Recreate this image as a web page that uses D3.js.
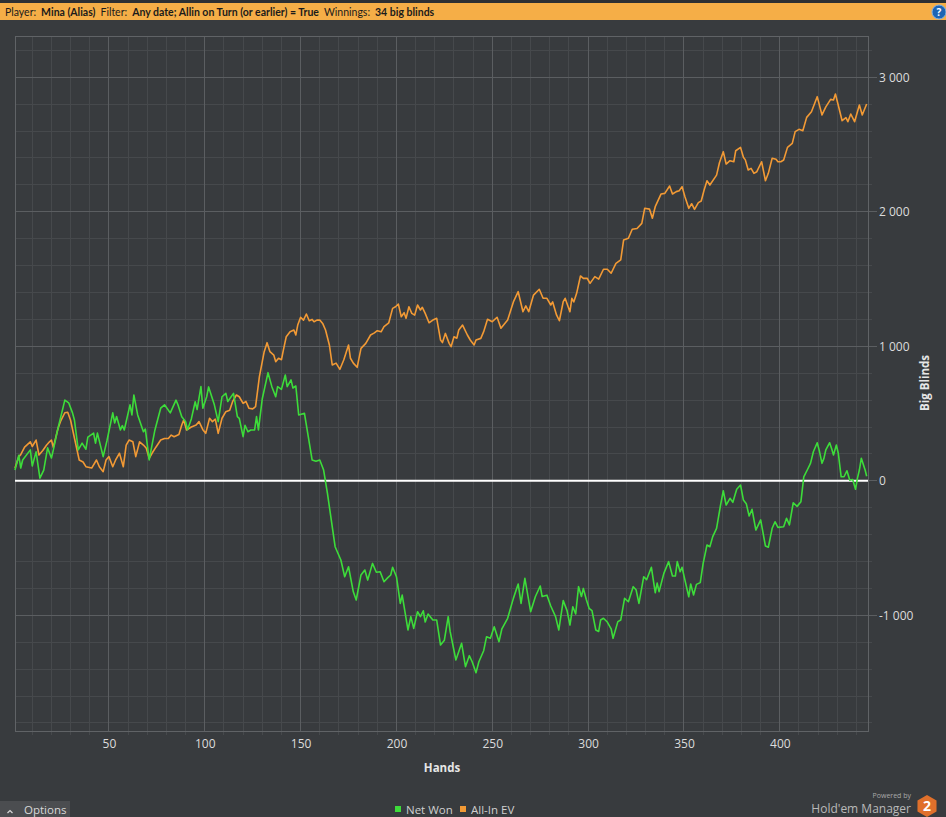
<!DOCTYPE html>
<html>
<head>
<meta charset="utf-8">
<script src="https://cdn.jsdelivr.net/npm/d3@7"></script>
<style>
  body { margin: 0; background: #383b3e; overflow: hidden; }
  svg { display: block; font-family: "Open Sans", "Noto Sans", sans-serif; }
</style>
</head>
<body>
<div id="chart"></div>
<script>
// ========== data: [hand, big blinds] ==========
var netWon = [[1,80],[3,190],[4,95],[5,155],[9,230],[10,110],[12,215],[14,20],[16,80],[18,245],[20,170],[21,230],[23,365],[27,600],[29,580],[31,505],[32,452],[34,230],[36,280],[38,235],[39,325],[42,355],[43,280],[44,355],[47,180],[49,300],[52,505],[53,430],[54,478],[56,378],[57,410],[58,378],[61,565],[62,490],[63,638],[65,490],[68,365],[69,385],[71,155],[74,378],[77,540],[79,565],[82,505],[85,600],[86,565],[88,477],[90,440],[91,380],[93,460],[95,588],[96,530],[98,700],[99,540],[101,625],[102,698],[105,565],[107,440],[109,625],[111,650],[112,590],[115,650],[117,477],[118,465],[120,328],[121,413],[122.5,365],[124,378],[126,378],[127,477],[128,378],[130,610],[133,804],[135,700],[137,625],[138,700],[140,680],[142,787],[143,700],[145,750],[146,690],[147.5,705],[149,490],[152,502],[156,155],[158,145],[160,155],[162,80],[164,-93],[168,-490],[171,-589],[173,-713],[175,-639],[177.5,-825],[179,-886],[181.5,-700],[183.5,-663],[185,-738],[187.5,-614],[189.5,-680],[191.5,-676],[193.5,-750],[195.5,-720],[197,-700],[198,-643],[200,-713],[202,-911],[203,-850],[206,-1109],[207.5,-1010],[209,-1097],[211,-973],[212.5,-1010],[214,-966],[215,-1050],[216.5,-990],[219,-1035],[221,-1035],[223,-1221],[225,-1185],[227,-1010],[228,-1120],[231,-1332],[234,-1208],[236,-1382],[238,-1300],[239.5,-1345],[241.5,-1427],[243,-1345],[245.5,-1263],[247,-1159],[249,-1170],[251,-1085],[253.5,-1196],[255,-1100],[258,-1022],[261,-874],[263.5,-767],[265,-911],[267,-725],[270,-973],[272.5,-860],[275,-782],[276,-860],[278.5,-850],[280.5,-931],[283,-1010],[284.7,-1109],[287,-891],[289,-965],[290.5,-1072],[292,-936],[293.5,-990],[295,-787],[296.5,-860],[297.5,-800],[299,-880],[300.5,-948],[302,-965],[304,-1109],[305.5,-1120],[306.5,-1035],[308,-1022],[310,-1050],[312,-1100],[313,-1171],[315.5,-1047],[317,-1035],[319,-874],[321,-899],[323.5,-787],[325,-810],[326.5,-911],[329,-713],[330.5,-735],[333,-643],[335,-832],[336,-760],[337,-824],[339.5,-688],[342,-601],[344,-708],[345.5,-708],[346.5,-601],[348,-676],[349,-643],[350.5,-738],[352.5,-862],[353.5,-767],[355,-849],[356.5,-770],[358.5,-757],[360,-614],[362,-477],[363.5,-490],[365,-415],[367,-353],[369,-187],[370.5,-74],[372,-180],[374,-130],[375.5,-160],[377.5,-63],[379.5,-31],[381,-143],[382.5,-170],[384,-262],[385.5,-212],[387.5,-366],[390,-291],[392.5,-485],[394,-494],[396,-353],[397.5,-304],[399,-346],[402,-341],[403.5,-279],[405,-328],[407,-163],[409,-190],[411,-155],[412.5,30],[414.5,86],[416,130],[417.5,216],[419.5,283],[420.5,230],[422,130],[423,167],[424,230],[426,283],[427,240],[428,192],[429.5,266],[430.5,205],[432,30],[433.5,30],[435,75],[436.5,5],[438,10],[439.5,-63],[440.5,20],[441.5,80],[442.5,167],[444.5,80],[445.3,34]];

var allInEV = [[1,95],[3,180],[4,195],[6,250],[9,290],[10,255],[12,303],[13.5,192],[15.5,225],[17.5,266],[19,290],[20,303],[21,250],[23.5,393],[25,450],[27,506],[28.5,510],[30,450],[32,318],[34.5,155],[36.5,140],[38,105],[41,95],[43.5,155],[45,105],[47,68],[48.5,155],[50,180],[52,105],[53.5,155],[55.5,205],[57.5,105],[59,266],[60.5,303],[62.5,290],[64,180],[66,290],[68,266],[69.5,242],[71,167],[72.5,205],[74.5,250],[77,303],[79,315],[81,315],[82.5,340],[84,328],[86.5,345],[88,415],[89,452],[90.5,378],[93,400],[95.5,415],[97,440],[99,380],[100.5,353],[102.5,465],[104,440],[105.5,458],[107,353],[109,465],[111,514],[113,525],[114.5,588],[116.5,638],[118,625],[120,576],[121.5,590],[123,540],[125,535],[126.5,551],[128.5,774],[131,960],[132.5,1027],[134,960],[136,935],[137,886],[138.5,911],[140,900],[141,972],[142.5,1071],[144.5,1109],[146.5,1121],[147.5,1084],[148.5,1158],[150,1216],[151.5,1195],[153,1240],[154.5,1190],[156,1200],[157,1183],[158.5,1195],[160,1196],[161.5,1170],[163,1121],[165,1010],[166.5,861],[168.5,875],[170.5,829],[172.5,898],[175,1010],[176,911],[177.5,875],[179.5,844],[181.5,985],[184,1022],[186.5,1084],[188.5,1100],[190,1116],[192,1108],[193.5,1146],[196,1175],[198,1282],[199.5,1294],[201,1314],[202.5,1220],[204,1250],[205,1208],[206.5,1294],[208,1245],[209.5,1232],[211,1307],[212.5,1270],[213.5,1290],[215,1245],[217,1175],[219,1195],[221,1208],[223,1047],[224,1028],[225.5,1096],[227.5,1022],[228.5,997],[230,1071],[231.5,1060],[232.5,1121],[234.5,1158],[237,1084],[238.5,1047],[240.5,1010],[241.5,1047],[244,1059],[245.5,1109],[247.5,1201],[250,1183],[252.5,1216],[254.5,1134],[258,1196],[261,1330],[263.5,1406],[266,1257],[267.5,1300],[269,1257],[271.5,1381],[274.5,1424],[276.5,1357],[278.5,1357],[280.5,1307],[281.5,1330],[283.5,1233],[285,1190],[287,1332],[288,1357],[290.5,1257],[291.5,1357],[292.5,1330],[294,1394],[296,1523],[297.5,1505],[299.5,1506],[301,1468],[303.5,1518],[305.5,1500],[308,1573],[310,1573],[312,1543],[314.5,1617],[317,1642],[318.5,1790],[321,1803],[323,1870],[325.5,1876],[328,1914],[329.5,2026],[332,2020],[333.5,1952],[335,2038],[338,2132],[340,2137],[342.5,2192],[344,2132],[346,2150],[347.5,2157],[349,2187],[350.5,2112],[352.5,2026],[354,2060],[355.5,2018],[357.5,2068],[359,2080],[360.5,2162],[362,2231],[363.5,2199],[367,2273],[368.5,2365],[370.5,2447],[372,2355],[374,2380],[376,2372],[377,2454],[379.5,2479],[381,2405],[382,2386],[383.5,2311],[385,2323],[386.5,2286],[388,2298],[390.5,2372],[392.5,2231],[394,2286],[396,2398],[398,2390],[399,2372],[400.5,2372],[402,2385],[404,2479],[406.5,2509],[408,2596],[410,2613],[412,2603],[414,2702],[416.5,2744],[419.5,2856],[422,2720],[424,2780],[426.5,2836],[428,2831],[429,2876],[430,2820],[432.5,2677],[434.5,2700],[435.5,2670],[437,2727],[439,2670],[441.5,2794],[443,2720],[445.3,2801]];

var handTicks = [50, 100, 150, 200, 250, 300, 350, 400];
var bbTicks = [-1000, 0, 1000, 2000, 3000];
var seriesNames = ["Net Won", "All-In EV"];
var seriesColors = ["#3ddc3a", "#f29a35"];
var headerParts = [["Player:", false], ["Mina (Alias)", true], ["Filter:", false], ["Any date; Allin on Turn (or earlier) = True", true], ["Winnings:", false], ["34 big blinds", true]];

// ========== chart setup ==========
var svgWidth = 946;
var svgHeight = 817;
var plot = {left: 15, top: 36, right: 868, bottom: 731};

var svg = d3.select("#chart").append("svg").attr("width", svgWidth).attr("height", svgHeight);
svg.append("rect").attr("width", svgWidth).attr("height", svgHeight).attr("fill", "#383b3e");

// header bar
svg.append("rect").attr("x", 0).attr("y", 0).attr("width", svgWidth).attr("height", 3).attr("fill", "#2d3033");
svg.append("rect").attr("x", 0).attr("y", 3).attr("width", svgWidth).attr("height", 17).attr("fill", "#f5ae47");
var header = svg.append("text").attr("x", 5).attr("y", 15.5).attr("font-size", "10.5px")
  .attr("font-family", "Lato, 'Open Sans', sans-serif").attr("fill", "#1b1b1b");
headerParts.forEach(function(p, i) {
  header.append("tspan").attr("dx", i == 0 ? 0 : (p[1] ? 5 : 5)).style("font-weight", p[1] ? "bold" : "normal").text(p[0]);
});
svg.append("circle").attr("cx", 939).attr("cy", 12).attr("r", 7).attr("fill", "#1d64b4").attr("stroke", "#7fb2e6").attr("stroke-width", 1);
svg.append("text").attr("x", 939).attr("y", 16).attr("text-anchor", "middle").attr("font-size", "10px")
  .style("font-weight", "bold").attr("fill", "white").text("?");

// ========== scales ==========
var xScale = d3.scaleLinear().domain([1, 446]).range([plot.left, plot.right]);
var yScale = d3.scaleLinear().domain([-1860, 3307]).range([plot.bottom, plot.top]);

// ========== grid ==========
var grid = svg.append("g");
var minorX = d3.range(10, 446, 10).filter(d => d % 50 != 0);
var minorY = d3.range(-1800, 3307, 200).filter(d => d % 1000 != 0);

grid.selectAll(".vminor").data(minorX).enter().append("line")
  .attr("x1", d => xScale(d)).attr("x2", d => xScale(d))
  .attr("y1", plot.top).attr("y2", plot.bottom + 4)
  .attr("stroke", "#46494c").attr("stroke-width", 1).attr("shape-rendering", "crispEdges");
grid.selectAll(".hminor").data(minorY).enter().append("line")
  .attr("x1", plot.left).attr("x2", plot.right + 4)
  .attr("y1", d => yScale(d)).attr("y2", d => yScale(d))
  .attr("stroke", "#46494c").attr("stroke-width", 1).attr("shape-rendering", "crispEdges");
grid.selectAll(".vmajor").data(handTicks).enter().append("line")
  .attr("x1", d => xScale(d)).attr("x2", d => xScale(d))
  .attr("y1", plot.top).attr("y2", plot.bottom)
  .attr("stroke", "#5b5e61").attr("stroke-width", 1).attr("shape-rendering", "crispEdges");
grid.selectAll(".hmajor").data(bbTicks).enter().append("line")
  .attr("x1", plot.left).attr("x2", plot.right + 9)
  .attr("y1", d => yScale(d)).attr("y2", d => yScale(d))
  .attr("stroke", "#5b5e61").attr("stroke-width", 1).attr("shape-rendering", "crispEdges");

svg.append("rect").attr("x", plot.left).attr("y", plot.top)
  .attr("width", plot.right - plot.left).attr("height", plot.bottom - plot.top)
  .attr("fill", "none").attr("stroke", "#606366").attr("stroke-width", 1).attr("shape-rendering", "crispEdges");

// ========== axes (labels only, lines drawn by the grid) ==========
var fmt = d => d3.format(",")(d).replace(/,/g, " ").replace("−", "-");

var xAxis = d3.axisBottom(xScale).tickValues(handTicks).tickSize(0).tickPadding(8);
var yAxis = d3.axisRight(yScale).tickValues(bbTicks).tickSize(0).tickPadding(11).tickFormat(fmt);

var gx = svg.append("g").attr("transform", `translate(0, ${plot.bottom})`).call(xAxis);
var gy = svg.append("g").attr("transform", `translate(${plot.right}, 0)`).call(yAxis);
[gx, gy].forEach(function(g) {
  g.select(".domain").remove();
  g.selectAll("text").attr("fill", "#dcdcdc").attr("font-size", "12px").attr("font-family", "'Open Sans', sans-serif");
});

svg.append("text").attr("x", 442).attr("y", 772).attr("text-anchor", "middle")
  .attr("font-size", "11.5px").style("font-weight", "bold").attr("fill", "#e6e6e6").text("Hands");
svg.append("text").attr("transform", "translate(929, 383) rotate(-90)").attr("text-anchor", "middle")
  .attr("font-size", "11.5px").style("font-weight", "bold").attr("fill", "#e6e6e6").text("Big Blinds");

// ========== zero line and series ==========
svg.append("line").attr("x1", plot.left).attr("x2", plot.right)
  .attr("y1", yScale(0)).attr("y2", yScale(0))
  .attr("stroke", "#ffffff").attr("stroke-width", 2);

var line = d3.line().x(d => xScale(d[0])).y(d => yScale(d[1]));

[allInEV, netWon].forEach(function(series, i) {
  svg.append("path").datum(series)
    .attr("d", line)
    .attr("fill", "none")
    .attr("stroke", seriesColors[1 - i])
    .attr("stroke-width", 1.6)
    .attr("stroke-linejoin", "round");
});

// ========== legend ==========
var legendX = [395, 460];
var legend = svg.append("g").selectAll("g").data(seriesNames).enter().append("g")
  .attr("transform", (d, i) => `translate(${legendX[i]}, 806)`);
legend.append("rect").attr("width", 6).attr("height", 6).attr("fill", (d, i) => seriesColors[i]);
legend.append("text").attr("x", 11).attr("y", 8).attr("font-size", "11.5px").attr("fill", "#cfcfcf").text(d => d);

// ========== options button and logo ==========
svg.append("rect").attr("x", 0).attr("y", 801).attr("width", 70).attr("height", 16).attr("fill", "#4b4d50");
svg.append("path").attr("d", "M7.5,813 L10,810.5 L12.5,813").attr("fill", "none").attr("stroke", "#d8d8d8").attr("stroke-width", 1.2);
svg.append("text").attr("x", 24).attr("y", 814).attr("font-size", "11.5px").attr("fill", "#d8d8d8").text("Options");

svg.append("text").attr("x", 911).attr("y", 798).attr("text-anchor", "end")
  .attr("font-size", "7px").attr("fill", "#a9a9a9").text("Powered by");
svg.append("text").attr("x", 911).attr("y", 813).attr("text-anchor", "end")
  .attr("font-size", "12px").attr("fill", "#b9b9b9").text("Hold'em Manager");
var hex = d3.range(6).map(k => {
  var a = Math.PI / 3 * k + Math.PI / 6;
  return [927 + 11 * Math.cos(a), 806 + 11 * Math.sin(a)];
});
svg.append("polygon").attr("points", hex.map(p => p.join(",")).join(" ")).attr("fill", "#e0702b");
svg.append("text").attr("x", 927).attr("y", 811).attr("text-anchor", "middle")
  .attr("font-size", "14px").style("font-weight", "bold").attr("fill", "white").text("2");
</script>
</body>
</html>
